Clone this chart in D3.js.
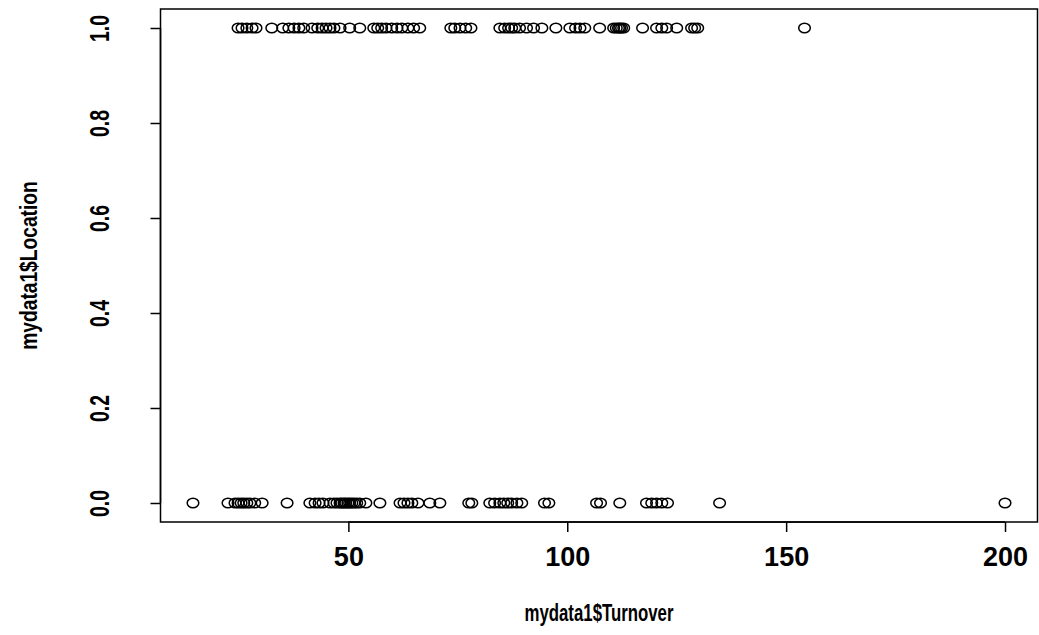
<!DOCTYPE html>
<html>
<head>
<meta charset="utf-8">
<script src="https://cdn.jsdelivr.net/npm/d3@7"></script>
<style>
  html, body { margin: 0; padding: 0; background: #fff; }
  svg { display: block; }
  text { font-family: "Liberation Sans", Arial, sans-serif; font-weight: bold; fill: #000; }
</style>
</head>
<body>
<svg id="chart" width="1039" height="635"></svg>
<script>
// Turnover values for observations with Location = 1
const turnoverLoc1 = [
  24.8, 25.7, 26.8, 28.0, 28.9, 32.5,
  35.0, 36.4, 37.6, 38.7, 39.8, 41.7,
  43.0, 44.0, 44.9, 45.8, 46.7, 48.1, 50.3, 52.6,
  55.8, 56.7, 57.6, 58.6, 59.9, 61.1, 62.2, 63.6, 64.9, 66.3,
  73.4, 74.3, 75.5, 76.8, 78.0,
  84.6, 85.7, 86.6, 87.3, 88.0, 89.1, 90.7,
  92.3, 94.2, 97.4, 100.6, 101.9, 102.9, 104.0, 107.4,
  110.6, 111.2, 111.7, 112.0, 112.4, 112.9,
  117.2, 120.4, 121.6, 122.7, 125.0, 128.4, 129.1, 129.8,
  154.2
];

// Turnover values for observations with Location = 0
const turnoverLoc0 = [
  14.5, 22.5, 24.1, 24.8, 25.5, 26.1, 26.8, 27.5, 28.6, 30.3,
  36.0, 41.2, 42.4, 43.3, 44.2,
  45.8, 46.7, 47.4, 48.1, 48.5, 49.0, 49.4, 49.9, 50.3, 50.8, 51.3, 51.9, 52.6, 54.0,
  57.2, 61.8, 62.7, 63.6, 64.5, 65.9, 68.6, 70.9,
  77.5, 78.2, 82.3, 83.4, 84.6, 85.5, 86.4, 87.3, 88.5, 89.6,
  94.8, 95.8, 106.7, 107.6, 112.0,
  118.1, 119.3, 120.4, 121.6, 122.9, 134.8, 200.0
];

const xTicks = [50, 100, 150, 200];
const yTicks = [0.0, 0.2, 0.4, 0.6, 0.8, 1.0];
const xTitle = "mydata1$Turnover";
const yTitle = "mydata1$Location";

const points = [
  ...turnoverLoc1.map(v => ({ x: v, y: 1 })),
  ...turnoverLoc0.map(v => ({ x: v, y: 0 }))
];

const svg = d3.select("#chart");

// Plot region (box), with R-style 4% padding on the data range
const box = { left: 160.5, right: 1037.5, top: 9, bottom: 522 };
const xExt = d3.extent(points, d => d.x);
const xPad = (xExt[1] - xExt[0]) * 0.04;
const x = d3.scaleLinear()
  .domain([xExt[0] - xPad, xExt[1] + xPad])
  .range([box.left, box.right]);
const y = d3.scaleLinear()
  .domain([-0.04, 1.04])
  .range([box.bottom, box.top]);

// Frame
svg.append("rect")
  .attr("x", box.left).attr("y", box.top)
  .attr("width", box.right - box.left).attr("height", box.bottom - box.top)
  .attr("fill", "none").attr("stroke", "#000").attr("stroke-width", 1.5);

// X axis
const xAxis = svg.append("g")
  .attr("transform", `translate(0,${box.bottom})`)
  .call(d3.axisBottom(x).tickValues(xTicks).tickFormat(d3.format("d")).tickSize(10));
xAxis.select(".domain").attr("d", `M${x(xTicks[0])},0H${x(xTicks[xTicks.length - 1])}`).attr("stroke-width", 1.5);
xAxis.selectAll(".tick line").attr("stroke-width", 1.5);
xAxis.selectAll(".tick text")
  .attr("y", 44).attr("dy", null)
  .style("font-size", "27px")
  .style("font-family", "Liberation Sans, Arial, sans-serif")
  .style("font-weight", "bold");

// Y axis with rotated, condensed tick labels
const yAxis = svg.append("g")
  .attr("transform", `translate(${box.left},0)`)
  .call(d3.axisLeft(y).tickValues(yTicks).tickFormat(d3.format(".1f")).tickSize(10));
yAxis.select(".domain").attr("d", `M0,${y(0)}V${y(1)}`).attr("stroke-width", 1.5);
yAxis.selectAll(".tick line").attr("stroke-width", 1.5);
yAxis.selectAll(".tick text")
  .attr("x", null).attr("dy", null)
  .attr("text-anchor", "middle")
  .attr("transform", "translate(-52,0) rotate(-90) scale(0.72,1)")
  .style("font-size", "27px")
  .style("font-family", "Liberation Sans, Arial, sans-serif")
  .style("font-weight", "bold");

// Axis titles
svg.append("text")
  .attr("transform", `translate(${(box.left + box.right) / 2},621) scale(0.7,1)`)
  .attr("text-anchor", "middle")
  .style("font-size", "24px")
  .text(xTitle);
svg.append("text")
  .attr("transform", `translate(37,${(box.top + box.bottom) / 2}) rotate(-90) scale(0.8,1)`)
  .attr("text-anchor", "middle")
  .style("font-size", "24px")
  .text(yTitle);

// Open circle markers
svg.append("g")
  .selectAll("ellipse")
  .data(points)
  .join("ellipse")
  .attr("cx", d => x(d.x))
  .attr("cy", d => y(d.y))
  .attr("rx", 5.8)
  .attr("ry", 4.8)
  .attr("fill", "none")
  .attr("stroke", "#000")
  .attr("stroke-width", 1.5);
</script>
</body>
</html>
